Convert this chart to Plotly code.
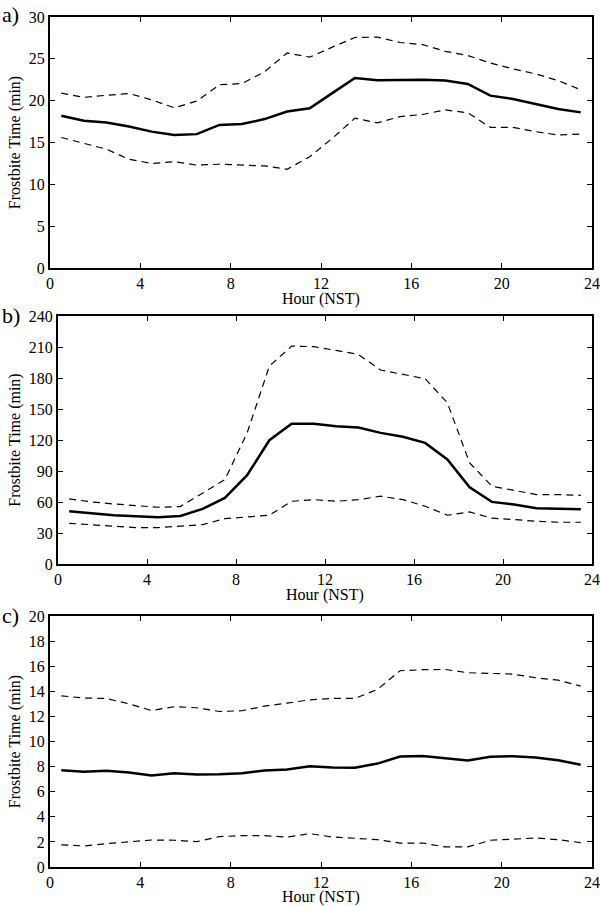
import plotly.graph_objects as go

hours = [h + 0.5 for h in range(24)]

a_mean = [18.2, 17.6, 17.4, 16.9, 16.3, 15.9, 16.0, 17.1, 17.2, 17.8, 18.7, 19.1,
          20.9, 22.7, 22.45, 22.45, 22.5, 22.4, 22.0, 20.6, 20.2, 19.6, 19.0, 18.6]
a_upper = [20.9, 20.4, 20.65, 20.85, 20.1, 19.15, 19.95, 21.9, 22.05, 23.45, 25.7, 25.2,
           26.4, 27.55, 27.6, 26.95, 26.7, 25.9, 25.4, 24.5, 23.8, 23.2, 22.4, 21.3]
a_lower = [15.6, 14.9, 14.2, 13.0, 12.5, 12.7, 12.3, 12.4, 12.3, 12.2, 11.8, 13.3,
           15.5, 17.9, 17.35, 18.1, 18.35, 18.9, 18.55, 16.8, 16.8, 16.3, 15.9, 16.0]

b_mean = [51.0, 49.1, 47.2, 46.2, 45.2, 46.5, 53.3, 64.0, 85.9, 119.8, 135.7, 135.7,
          133.4, 132.1, 126.9, 123.1, 117.2, 101.1, 74.3, 60.1, 57.5, 53.9, 53.6, 53.0]
b_upper = [63.0, 60.1, 58.1, 56.5, 54.9, 55.6, 68.8, 81.7, 126.9, 191.5, 210.9, 210.3,
           206.7, 202.8, 187.7, 183.5, 179.3, 156.0, 97.9, 75.3, 71.4, 67.2, 67.2, 66.5]
b_lower = [39.4, 38.1, 36.2, 35.2, 35.2, 36.5, 38.1, 43.9, 45.2, 47.2, 60.7, 62.3,
           60.7, 62.3, 65.6, 62.3, 55.9, 47.2, 50.4, 44.3, 43.0, 41.3, 40.4, 40.4]

c_mean = [7.71, 7.58, 7.66, 7.53, 7.29, 7.47, 7.37, 7.39, 7.47, 7.69, 7.77, 8.03,
          7.93, 7.90, 8.24, 8.80, 8.85, 8.64, 8.48, 8.78, 8.83, 8.72, 8.51, 8.14]
c_upper = [13.64, 13.46, 13.43, 13.0, 12.47, 12.77, 12.69, 12.39, 12.45, 12.82, 13.06, 13.32,
           13.43, 13.43, 14.15, 15.64, 15.72, 15.74, 15.48, 15.43, 15.37, 15.08, 14.89, 14.41]
c_lower = [1.76, 1.68, 1.86, 1.99, 2.15, 2.13, 2.02, 2.42, 2.5, 2.5, 2.39, 2.66,
           2.39, 2.29, 2.18, 1.91, 1.91, 1.6, 1.6, 2.13, 2.23, 2.31, 2.18, 1.94]

panel_labels = ["a)", "b)", "c)"]
y_ranges = [(0, 30, 5), (0, 240, 30), (0, 20, 2)]
x_title = "Hour (NST)"
y_title = "Frostbite Time (min)"
x_ticks = [0, 4, 8, 12, 16, 20, 24]

W, H = 600, 906
# plot areas in pixels: (left, right, top, bottom)
boxes = [(50, 592, 17, 268), (58, 592, 316, 564), (50, 592, 616, 867)]
label_y = [15, 315, 615]
xtitle_center = [299, 595, 897]

FONT = "'Liberation Serif', 'DejaVu Serif', serif"

fig = go.Figure()
series = [(a_mean, a_upper, a_lower), (b_mean, b_upper, b_lower), (c_mean, c_upper, c_lower)]

layout = dict(width=W, height=H, margin=dict(l=0, r=0, t=0, b=0, autoexpand=False),
              paper_bgcolor="white", plot_bgcolor="white", showlegend=False,
              font=dict(family=FONT, color="black"))

annotations = []
for i, ((m, u, lo), (l, r, t, b), (y0, y1, dy)) in enumerate(zip(series, boxes, y_ranges)):
    n = "" if i == 0 else str(i + 1)
    xa, ya = "x" + n, "y" + n
    for vals, dash, w in [(u, "7px,5px", 1.2), (lo, "7px,5px", 1.2), (m, "solid", 2.5)]:
        fig.add_trace(go.Scatter(x=hours, y=vals, mode="lines", xaxis=xa, yaxis=ya,
                                 line=dict(color="black", width=w, dash=dash),
                                 hoverinfo="skip"))
    common = dict(showline=True, linewidth=2, linecolor="black", mirror="ticks",
                  ticks="inside", ticklen=5, tickwidth=1, tickcolor="black",
                  showgrid=False, zeroline=False, automargin=False,
                  tickfont=dict(family=FONT, size=16, color="black"))
    layout["xaxis" + n] = dict(common, domain=[l / W, r / W], range=[0, 24],
                               tickvals=x_ticks, anchor=ya)
    layout["yaxis" + n] = dict(common, domain=[(H - b) / H, (H - t) / H],
                               range=[y0, y1], tick0=0, dtick=dy, anchor=xa,
                               title=dict(text=y_title, standoff=4,
                                          font=dict(family=FONT, size=16, color="black")))
    annotations.append(dict(text=x_title, x=(l + r) / 2 / W, y=(H - xtitle_center[i]) / H,
                            xref="paper", yref="paper", xanchor="center", yanchor="middle",
                            borderpad=0, showarrow=False,
                            font=dict(family=FONT, size=16, color="black")))
    annotations.append(dict(text=panel_labels[i], x=0, y=(H - label_y[i]) / H,
                            xref="paper", yref="paper", xanchor="left", yanchor="middle",
                            showarrow=False, font=dict(family=FONT, size=22, color="black")))

layout["annotations"] = annotations
fig.update_layout(**layout)
fig.write_html("out.html", config={"displayModeBar": False, "staticPlot": True},
               post_script="document.body.style.margin='0';document.body.style.overflow='hidden';")
